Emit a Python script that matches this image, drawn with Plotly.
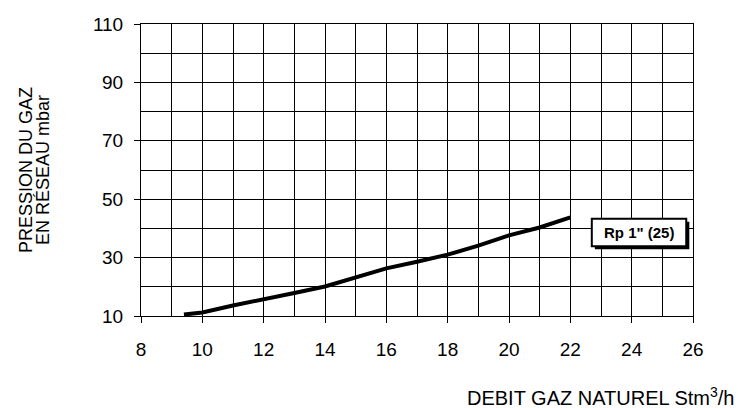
import plotly.graph_objects as go

# Data
debit = [9.4, 10, 11, 12, 13, 14, 15, 16, 17, 18, 19, 20, 21, 22]
pression = [10.5, 11.2, 13.6, 15.6, 17.9, 20.1, 23.3, 26.3, 28.6, 31.0, 34.1, 37.6, 40.3, 43.8]
series_label = 'Rp 1" (25)'
x_ticks = [8, 10, 12, 14, 16, 18, 20, 22, 24, 26]
y_ticks = [10, 30, 50, 70, 90, 110]
y_title_lines = ["PRESSION DU GAZ", "EN RÉSEAU mbar"]
x_title = "DEBIT GAZ NATUREL Stm<sup>3</sup>/h"

FONT = "Arial, Liberation Sans, sans-serif"

fig = go.Figure()
fig.add_trace(go.Scatter(x=debit, y=pression, mode="lines",
                         line=dict(color="black", width=4), showlegend=False))

# Label box with shadow
box = dict(x0=22.7, x1=25.78, y0=33.9, y1=43.3)
fig.add_shape(type="rect", xref="x", yref="y",
              x0=box["x0"] + 0.1, x1=box["x1"] + 0.1, y0=box["y0"] - 1.0, y1=box["y1"] - 1.0,
              fillcolor="black", line=dict(width=0), layer="above")
fig.add_shape(type="rect", xref="x", yref="y", **box,
              fillcolor="white", line=dict(color="black", width=2), layer="above")
fig.add_annotation(x=(box["x0"] + box["x1"]) / 2, y=(box["y0"] + box["y1"]) / 2,
                   xref="x", yref="y", text="<b>" + series_label + "</b>", showarrow=False,
                   font=dict(family=FONT, size=15, color="black"))

# Axis titles
fig.add_annotation(xref="paper", yref="paper", x=1, y=0, xanchor="right", yanchor="middle",
                   xshift=43, yshift=-80, showarrow=False, text=x_title,
                   font=dict(family=FONT, size=20, color="black"))
for i, line in enumerate(y_title_lines):
    fig.add_annotation(xref="paper", yref="paper", x=0, y=0.5, xanchor="center", yanchor="middle",
                       xshift=-115 + 17 * i, showarrow=False, textangle=-90, text=line,
                       font=dict(family=FONT, size=18, color="black"))

axis_common = dict(showline=True, linecolor="black", linewidth=1, mirror=True,
                   showgrid=True, gridcolor="black", gridwidth=1, zeroline=False,
                   ticks="outside", ticklen=6, tickcolor="black",
                   tickfont=dict(family=FONT, size=19, color="black"))

fig.update_xaxes(range=[8, 26], tickvals=x_ticks, ticklabelstandoff=10,
                 minor=dict(dtick=1, tick0=8, showgrid=True, gridcolor="black", gridwidth=1, ticks=""),
                 **axis_common)
fig.update_yaxes(range=[10, 110], tickvals=y_ticks, ticklabelstandoff=7,
                 minor=dict(dtick=10, tick0=10, showgrid=True, gridcolor="black", gridwidth=1, ticks=""),
                 **axis_common)

fig.update_layout(width=738, height=408, plot_bgcolor="white", paper_bgcolor="white",
                  margin=dict(l=141, r=45, t=24, b=92),
                  font=dict(family=FONT, color="black"))

fig.write_html("out.html", config={"displayModeBar": False},
               post_script="document.body.style.margin='0';")
